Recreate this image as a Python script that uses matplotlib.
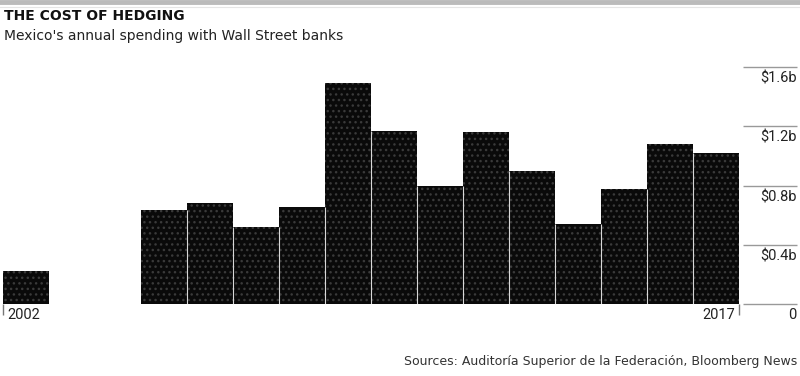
import matplotlib.pyplot as plt
import numpy as np

plt.rcParams['font.family'] = ['Liberation Sans Narrow', 'Roboto', 'DejaVu Sans']
plt.rcParams['hatch.linewidth'] = 1.0

years = list(range(2002, 2018))
# spending in billions of USD (2003, 2004 empty)
spending = [0.22, 0, 0, 0.635, 0.68, 0.52, 0.655, 1.49, 1.17, 0.80,
            1.16, 0.90, 0.54, 0.78, 1.08, 1.02]
yticks = [0.4, 0.8, 1.2, 1.6]
ytick_labels = ['$0.4b', '$0.8b', '$1.2b', '$1.6b']

W, H = 800, 376
fig = plt.figure(figsize=(W / 100, H / 100), dpi=100)

# axes: bars start at x=3px, slot 46px, baseline at y=304px
left, right = 3, 797
base, top = 304, 60
ax = fig.add_axes([left / W, 1 - base / H, (right - left) / W, (base - top) / H])
slot = 46
ax.set_xlim(-0.5, -0.5 + (right - left) / slot)
ax.set_ylim(0, (base - top) / 148)
ax.axis('off')

x = np.arange(len(years))
ax.bar(x, spending, width=0.985, color='#0a0a0a', edgecolor='#3a3a3a',
       linewidth=0, hatch='...')

# thin light separators between neighbouring bars
vals = np.array(spending)
shared = np.minimum(vals[:-1], vals[1:])
ax.vlines(x[:-1] + 0.5, 0, shared, color='#d8d8d8', linewidth=0.8)

# right-hand value scale
gx0 = (743 - left) / slot - 0.5
gx1 = ax.get_xlim()[1]
for v, lab in zip([0] + yticks, ['0'] + ytick_labels):
    ax.hlines(v, gx0, gx1, color='#999999', linewidth=1, clip_on=False)
    ax.text(gx1 - 0.01, v - 0.03, lab, ha='right', va='top', fontsize=10.5,
            color='#222222')

# year ticks
for xi, lab, ha, dx in [(-0.5, '2002', 'left', 0.1), (15.5, '2017', 'right', -0.08)]:
    ax.vlines(xi, -0.075, 0, color='#777777', linewidth=1, clip_on=False)
    ax.text(xi + dx, -0.03, lab, ha=ha, va='top', fontsize=10.5, color='#222222')

# header rule
fig.add_artist(plt.Line2D([0, 1], [1 - 2 / H, 1 - 2 / H], color='#bbbbbb', linewidth=3.5))
fig.add_artist(plt.Line2D([0, 1], [1 - 6.5 / H, 1 - 6.5 / H], color='#e6e6e6', linewidth=0.8))

fig.text(4 / W, 1 - 16 / H, 'THE COST OF HEDGING', fontsize=10, fontweight='bold',
         va='center', ha='left', color='#111111', family=['DejaVu Sans'])
fig.text(4 / W, 1 - 36 / H, "Mexico's annual spending with Wall Street banks", fontsize=10,
         va='center', ha='left', color='#222222', family=['DejaVu Sans'])
fig.text(797 / W, 1 - 362 / H, 'Sources: Auditoría Superior de la Federación, Bloomberg News',
         fontsize=9, va='center', ha='right', color='#333333', family=['DejaVu Sans'])

fig.savefig('out.png', dpi=100)
